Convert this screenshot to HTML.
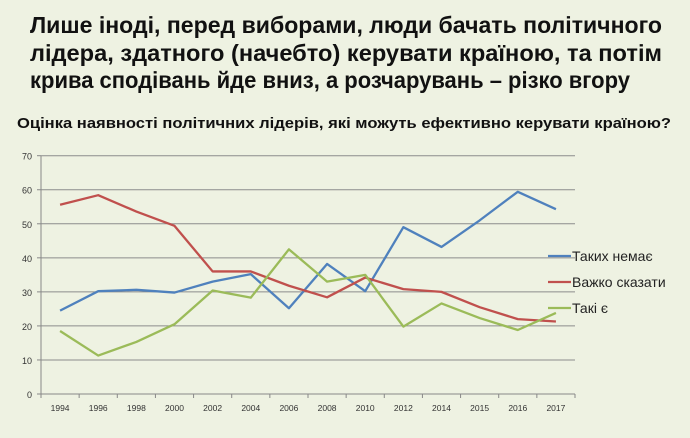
<!DOCTYPE html>
<html><head><meta charset="utf-8"><style>
body{margin:0;background:#eef2e2;}
svg{display:block;font-family:"Liberation Sans",sans-serif;}
</style></head><body>
<svg id="chart" width="690" height="438" viewBox="0 0 690 438">
<rect width="690" height="438" fill="#eef2e2"/>
<g font-weight="bold" fill="#111" font-size="23">
<text x="30" y="33" textLength="632" lengthAdjust="spacingAndGlyphs">Лише іноді, перед виборами, люди бачать політичного</text>
<text x="30" y="61" textLength="632" lengthAdjust="spacingAndGlyphs">лідера, здатного (начебто) керувати країною, та потім</text>
<text x="30" y="88" textLength="600" lengthAdjust="spacingAndGlyphs">крива сподівань йде вниз, а розчарувань – різко вгору</text>
</g>
<text x="17" y="128" font-size="15" font-weight="bold" fill="#111" textLength="654" lengthAdjust="spacingAndGlyphs">Оцінка наявності політичних лідерів, які можуть ефективно керувати країною?</text>
<g id="grid"></g><g id="axes"></g><g id="series"></g><g id="legend"></g>
</svg>
<script>
const categories=["1994","1996","1998","2000","2002","2004","2006","2008","2010","2012","2014","2015","2016","2017"];
const yTicks=[0,10,20,30,40,50,60,70];
const seriesNames=["Таких немає","Важко сказати","Такі є"];
const noneValues=[24.5,30.2,30.6,29.8,33,35.2,25.2,38.2,30.2,49,43.2,51,59.4,54.3];
const hardValues=[55.6,58.4,53.6,49.4,36,36,31.8,28.4,34.2,30.8,30,25.5,22,21.3];
const yesValues=[18.5,11.3,15.3,20.5,30.4,28.3,42.5,33,35,19.8,26.6,22.3,18.8,23.8];
const NS="http://www.w3.org/2000/svg";
const L=41,R=575,T=155.7,B=394,yMax=70;
const band=(R-L)/categories.length;
const xs=i=>L+band*(i+0.5);
const ys=v=>B-(v/yMax)*(B-T);
function mk(tag,attrs,parent){const e=document.createElementNS(NS,tag);for(const k in attrs)e.setAttribute(k,attrs[k]);parent.appendChild(e);return e;}
const grid=document.getElementById('grid'),axes=document.getElementById('axes'),ser=document.getElementById('series'),leg=document.getElementById('legend');
yTicks.forEach(t=>{
 if(t>0){const g=mk('line',{x1:L,x2:R,y1:ys(t),y2:ys(t),stroke:'#8c8c8c','stroke-width':1},grid);
 
 }
 const tx=mk('text',{x:L-9,y:ys(t)+4,'text-anchor':'end','font-size':9,fill:'#333'},axes);
 tx.textContent=t;
 
 
 const tk=mk('line',{x1:L-4,x2:L,y1:ys(t),y2:ys(t),stroke:'#888'},axes);
 
 
});
const ya=mk('line',{x1:L,x2:L,y1:T,y2:B,stroke:'#888'},axes);


const xa=mk('line',{x1:L,x2:R,y1:B,y2:B,stroke:'#888'},axes);


for(let i=0;i<=categories.length;i++){const tk=mk('line',{x1:L+band*i,x2:L+band*i,y1:B,y2:B+4,stroke:'#888'},axes);
 
 }
categories.forEach((c,i)=>{const tx=mk('text',{x:xs(i),y:B+17,'text-anchor':'middle','font-size':8.5,fill:'#333'},axes);
 tx.textContent=c;
 
 });
const all=[[noneValues,'#4f81bd','series-none'],[hardValues,'#c0504d','series-hard-to-say'],[yesValues,'#9bbb59','series-yes']];
all.forEach(([vals,col,name],k)=>{
 const p=mk('polyline',{points:vals.map((v,i)=>xs(i)+','+ys(v)).join(' '),fill:'none',stroke:col,'stroke-width':2.3,'stroke-linejoin':'round'},ser);
 
 
 const ly=256+k*26;
 const ll=mk('line',{x1:548,x2:571,y1:ly,y2:ly,stroke:col,'stroke-width':2.3},leg);
 
 
 const lt=mk('text',{x:572,y:ly+5,'font-size':14,fill:'#222'},leg);
 lt.textContent=seriesNames[k];
 
 
});
</script>
</body></html>
